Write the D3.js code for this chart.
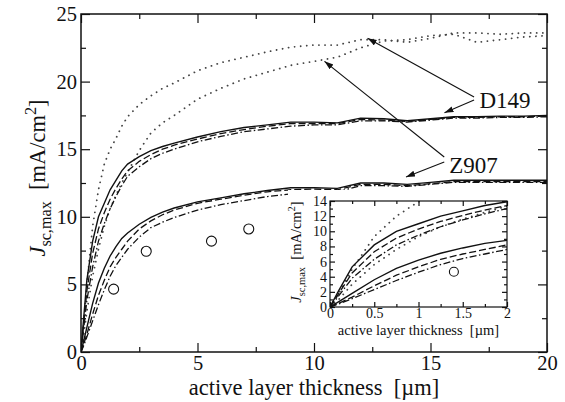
<!DOCTYPE html>
<html>
<head>
<meta charset="utf-8">
<script src="https://cdnjs.cloudflare.com/ajax/libs/d3/7.8.5/d3.min.js"></script>
<style>
  body { margin: 0; background: #fff; }
  svg { display: block; font-family: "Liberation Serif", "Times New Roman", serif; }
</style>
</head>
<body>
<div id="main"></div>
<script>
// thickness grid (um) shared by all simulated curves
var thickness = [0, 0.1, 0.25, 0.5, 0.75, 1, 1.25, 1.5, 1.75, 2, 2.5, 3, 3.5, 4, 5, 6, 7, 8, 9, 10, 11, 12, 13, 14, 15, 16, 17, 18, 19, 20];

// D149 curves
var d149Dotted  = [0, 1.8, 5.0, 9.3, 12.0, 13.9, 15.0, 15.8, 16.7, 17.4, 18.3, 18.95, 19.5, 19.9, 20.8, 21.4, 21.8, 22.2, 22.55, 22.7, 22.7, 23.1, 23.1, 22.9, 23.2, 23.6, 23.6, 23.5, 23.6, 23.6];
var d149Solid   = [0, 2.2, 5.3, 8.2, 10.0, 11.0, 12.0, 12.7, 13.4, 13.9, 14.45, 14.9, 15.2, 15.45, 15.9, 16.3, 16.6, 16.8, 17.0, 17.0, 16.95, 17.3, 17.25, 17.1, 17.25, 17.4, 17.4, 17.45, 17.45, 17.5];
var d149Dashed  = [0, 1.8, 4.5, 7.3, 9.1, 10.3, 11.3, 12.1, 12.8, 13.4, 14.1, 14.6, 15.0, 15.3, 15.75, 16.15, 16.45, 16.7, 16.9, 16.9, 16.9, 17.2, 17.15, 17.05, 17.2, 17.35, 17.35, 17.4, 17.4, 17.45];
var d149DashDot = [0, 1.5, 3.8, 6.3, 8.2, 9.5, 10.6, 11.5, 12.3, 13.0, 13.7, 14.3, 14.7, 15.0, 15.55, 15.95, 16.3, 16.5, 16.7, 16.8, 16.8, 17.1, 17.1, 17.0, 17.15, 17.3, 17.3, 17.35, 17.35, 17.4];

// Z907 curves
var z907Dotted  = [0, 1.0, 3.0, 5.6, 7.6, 9.3, 10.6, 11.6, 12.5, 13.3, 14.9, 16.2, 16.95, 17.5, 18.7, 19.5, 20.2, 20.7, 21.2, 21.5, 21.8, 22.5, 23.0, 23.1, 23.4, 23.5, 22.9, 23.1, 23.3, 23.4];
var z907Solid   = [0, 0.7, 1.8, 3.6, 5.1, 6.2, 7.1, 7.8, 8.4, 8.8, 9.45, 9.95, 10.35, 10.65, 11.1, 11.4, 11.7, 11.95, 12.15, 12.15, 12.1, 12.5, 12.5, 12.4, 12.55, 12.7, 12.7, 12.7, 12.7, 12.7];
var z907Dashed  = [0, 0.5, 1.3, 2.8, 4.2, 5.3, 6.3, 7.0, 7.6, 8.2, 9.1, 9.7, 10.15, 10.5, 11.0, 11.3, 11.6, 11.85, 12.0, 12.05, 12.0, 12.4, 12.4, 12.3, 12.45, 12.6, 12.6, 12.6, 12.6, 12.6];
var z907DashDot = [0, 0.4, 1.1, 2.3, 3.5, 4.6, 5.6, 6.4, 7.0, 7.6, 8.5, 9.2, 9.6, 9.95, 10.5, 10.9, 11.2, 11.5, 11.7, 11.8, 11.85, 12.3, 12.3, 12.25, 12.4, 12.55, 12.55, 12.55, 12.55, 12.55];

// measured points (circles)
var expThickness = [1.4, 2.8, 5.6, 7.2];
var expJsc = [4.65, 7.45, 8.2, 9.1];

var xTicks = [0, 5, 10, 15, 20];
var xMinor = [2.5, 7.5, 12.5, 17.5];
var yTicks = [0, 5, 10, 15, 20, 25];
var yMinor = [2.5, 7.5, 12.5, 17.5, 22.5];
var insetXTicks = [0, 0.5, 1, 1.5, 2];
var insetXMinor = [0.25, 0.75, 1.25, 1.75];
var insetYTicks = [0, 2, 4, 6, 8, 10, 12, 14];
var insetYMinor = [1, 3, 5, 7, 9, 11, 13];

// label annotations: label, text anchor (data), arrows [from, to] (data)
var annLabels = ["D149", "Z907"];
var annTextPos = [[17.1, 18.05], [15.8, 13.25]];
var annArrows = [
  [[[16.87, 18.86], [12.3, 23.2]], [[16.87, 18.64], [15.6, 17.7]]],
  [[[15.59, 14.42], [10.45, 21.5]], [[15.59, 14.05], [13.95, 12.95]]]
];

var styles = {
  dotted:  { dash: "0.1,6", color: "#444", width: 1.8 },
  solid:   { dash: null, color: "#111", width: 1.4 },
  dashed:  { dash: "7,3", color: "#111", width: 1.3 },
  dashdot: { dash: "7,2.5,1.5,2.5", color: "#111", width: 1.3 }
};

var curves = [
  { y: d149Dotted, s: "dotted" }, { y: z907Dotted, s: "dotted" },
  { y: d149DashDot, s: "dashdot" }, { y: d149Dashed, s: "dashed" }, { y: d149Solid, s: "solid" },
  { y: z907DashDot, s: "dashdot" }, { y: z907Dashed, s: "dashed" }, { y: z907Solid, s: "solid" }
];

var W = 565, H = 402;
var svg = d3.select("#main").append("svg").attr("width", W).attr("height", H);
var defs = svg.append("defs");

defs.append("marker").attr("id", "arrow")
  .attr("markerUnits", "userSpaceOnUse")
  .attr("markerWidth", 10).attr("markerHeight", 8)
  .attr("refX", 9).attr("refY", 3).attr("orient", "auto")
  .append("path").attr("d", "M0,0 L9,3 L0,6 Z").attr("fill", "#111");

function drawPanel(g, opt) {
  var x = d3.scaleLinear().domain(opt.xDom).range(opt.xRange);
  var y = d3.scaleLinear().domain(opt.yDom).range(opt.yRange);
  var x0 = opt.xRange[0], x1 = opt.xRange[1], y0 = opt.yRange[0], y1 = opt.yRange[1];

  g.append("rect").attr("x", x0).attr("y", y1).attr("width", x1 - x0).attr("height", y0 - y1)
    .attr("fill", "#fff");

  defs.append("clipPath").attr("id", opt.id)
    .append("rect").attr("x", x0).attr("y", y1).attr("width", x1 - x0).attr("height", y0 - y1);

  var plot = g.append("g").attr("clip-path", "url(#" + opt.id + ")");
  var line = d3.line().x(function (d) { return x(d[0]); }).y(function (d) { return y(d[1]); });

  curves.forEach(function (c) {
    var st = styles[c.s];
    plot.append("path")
      .datum(thickness.map(function (t, i) { return [t, c.y[i]]; }))
      .attr("d", line)
      .attr("fill", "none")
      .attr("stroke", st.color)
      .attr("stroke-width", st.width)
      .attr("stroke-dasharray", st.dash)
      .attr("stroke-linecap", c.s == "dotted" ? "round" : "butt");
  });

  plot.selectAll("circle.exp")
    .data(expThickness.map(function (t, i) { return [t, expJsc[i]]; }))
    .enter().append("circle")
    .attr("cx", function (d) { return x(d[0]); })
    .attr("cy", function (d) { return y(d[1]); })
    .attr("r", opt.r)
    .attr("fill", "none").attr("stroke", "#111").attr("stroke-width", 1.1);

  // axes with inward ticks on all four sides
  function axis(a, pos, ticks, size, labels, pad) {
    var ax = a.tickValues(ticks).tickSize(-size).tickSizeOuter(0).tickPadding(pad || 0);
    if (!labels) ax.tickFormat("");
    else ax.tickFormat(d3.format(""));
    var gg = g.append("g").attr("transform", pos).call(ax);
    gg.attr("font-family", null);
    gg.select(".domain").remove();
    gg.selectAll("line").attr("stroke", "#111").attr("stroke-width", 1.2);
    gg.selectAll("text").attr("font-size", opt.fs).attr("fill", "#111");
    return gg;
  }
  axis(d3.axisBottom(x), "translate(0," + y0 + ")", opt.xTicks, opt.major, true, opt.xPad);
  axis(d3.axisBottom(x), "translate(0," + y0 + ")", opt.xMinor, opt.minor, false);
  axis(d3.axisTop(x), "translate(0," + y1 + ")", opt.xTicks, opt.major, false);
  axis(d3.axisTop(x), "translate(0," + y1 + ")", opt.xMinor, opt.minor, false);
  axis(d3.axisLeft(y), "translate(" + x0 + ",0)", opt.yTicks, opt.major, true, opt.yPad);
  axis(d3.axisLeft(y), "translate(" + x0 + ",0)", opt.yMinor, opt.minor, false);
  axis(d3.axisRight(y), "translate(" + x1 + ",0)", opt.yTicks, opt.major, false);
  axis(d3.axisRight(y), "translate(" + x1 + ",0)", opt.yMinor, opt.minor, false);

  g.append("rect").attr("x", x0).attr("y", y1).attr("width", x1 - x0).attr("height", y0 - y1)
    .attr("fill", "none").attr("stroke", "#111").attr("stroke-width", opt.frame);

  // axis titles
  g.append("text")
    .attr("x", (x0 + x1) / 2).attr("y", opt.xLabelY)
    .attr("text-anchor", "middle").attr("font-size", opt.lfs).attr("fill", "#111")
    .text("active layer thickness\u00a0\u00a0[\u00b5m]");

  var yl = g.append("text")
    .attr("transform", "translate(" + opt.yLabelX + "," + opt.yLabelY + ") rotate(-90)")
    .attr("text-anchor", "middle").attr("font-size", opt.lfs).attr("fill", "#111");
  yl.append("tspan").attr("font-style", "italic").text("J");
  yl.append("tspan").attr("font-size", opt.lfs * 0.72).attr("dy", opt.lfs * 0.25).text("sc,max");
  yl.append("tspan").attr("dy", -opt.lfs * 0.25).text("\u00a0\u00a0[mA/cm");
  yl.append("tspan").attr("font-size", opt.lfs * 0.72).attr("dy", -opt.lfs * 0.42).text("2");
  yl.append("tspan").attr("dy", opt.lfs * 0.42).text("]");

  return { x: x, y: y };
}

var main = drawPanel(svg.append("g"), {
  id: "clipMain", xDom: [0, 20], yDom: [0, 25], xRange: [81, 547], yRange: [352, 14],
  xTicks: xTicks, xMinor: xMinor, yTicks: yTicks, yMinor: yMinor,
  major: 9, minor: 5, xPad: 3, yPad: 4, fs: 20.5, lfs: 22.5, frame: 1.5, r: 5,
  xLabelY: 395, yLabelX: 45, yLabelY: 178
});

// annotations
var ann = svg.append("g");
annLabels.forEach(function (lab, i) {
  ann.append("text")
    .attr("x", main.x(annTextPos[i][0])).attr("y", main.y(annTextPos[i][1]))
    .attr("font-size", 23).attr("fill", "#111").text(lab);
  annArrows[i].forEach(function (a) {
    ann.append("line")
      .attr("x1", main.x(a[0][0])).attr("y1", main.y(a[0][1]))
      .attr("x2", main.x(a[1][0])).attr("y2", main.y(a[1][1]))
      .attr("stroke", "#111").attr("stroke-width", 1.1)
      .attr("marker-end", "url(#arrow)");
  });
});

// inset, zoom of the first 2 um
var insetG = svg.append("g");
insetG.append("rect").attr("x", 288).attr("y", 190).attr("width", 222).attr("height", 148).attr("fill", "#fff");
drawPanel(insetG, {
  id: "clipInset", xDom: [0, 2], yDom: [0, 14], xRange: [330, 507], yRange: [307, 201],
  xTicks: insetXTicks, xMinor: insetXMinor, yTicks: insetYTicks, yMinor: insetYMinor,
  major: 5, minor: 3, xPad: 1, yPad: 3, fs: 14, lfs: 14.5, frame: 1.2, r: 4.5,
  xLabelY: 335, yLabelX: 301, yLabelY: 252
});
</script>
</body>
</html>
